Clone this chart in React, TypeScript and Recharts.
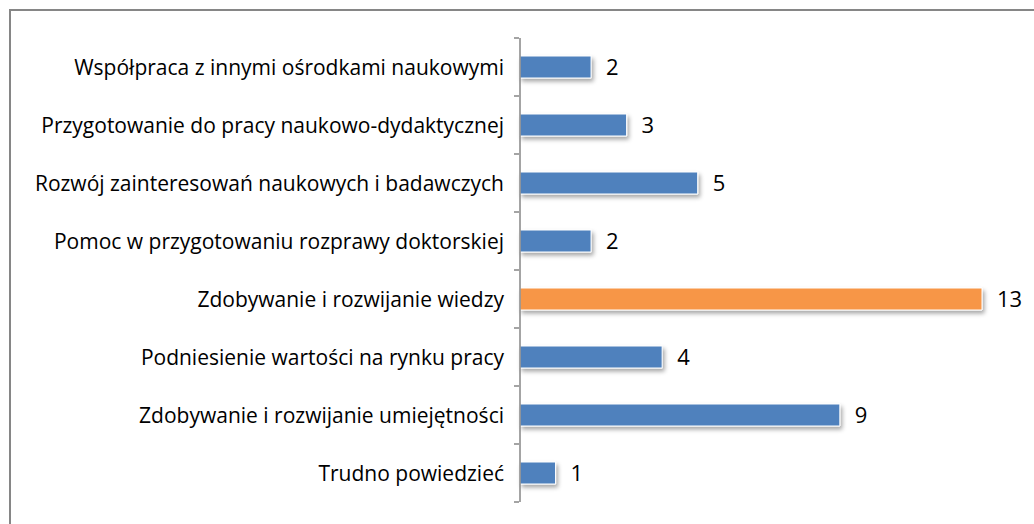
import { BarChart, Bar, XAxis, YAxis, Cell, LabelList } from 'recharts'

const categories = [
  'Współpraca z innymi ośrodkami naukowymi',
  'Przygotowanie do pracy naukowo-dydaktycznej',
  'Rozwój zainteresowań naukowych i badawczych',
  'Pomoc w przygotowaniu rozprawy doktorskiej',
  'Zdobywanie i rozwijanie wiedzy',
  'Podniesienie wartości na rynku pracy',
  'Zdobywanie i rozwijanie umiejętności',
  'Trudno powiedzieć',
]
const values = [2, 3, 5, 2, 13, 4, 9, 1]
const highlighted = 'Zdobywanie i rozwijanie wiedzy'

const data = categories.map((name, i) => ({ name, value: values[i] }))

const W = 1034
const H = 524
const TOP = 38
const BOTTOM = 22
const AXIS_W = 520
const FONT = '"Open Sans", Lato, sans-serif'
const band = (H - TOP - BOTTOM) / categories.length

function CatTick(props: any) {
  const { x, y, payload, index } = props
  const ax = AXIS_W - 1
  return (
    <g>
      <line x1={ax - 5} x2={ax} y1={y - band / 2} y2={y - band / 2} stroke="#868686" strokeWidth={1.5} />
      {index === categories.length - 1 && (
        <line x1={ax - 5} x2={ax} y1={y + band / 2} y2={y + band / 2} stroke="#868686" strokeWidth={1.5} />
      )}
      <text x={x} y={y} dy={8} textAnchor="end" fontSize={21} fill="#000" fontFamily={FONT}>
        {payload.value}
      </text>
    </g>
  )
}

export default function App() {
  return (
    <div style={{ position: 'fixed', left: 0, top: 0, width: W, height: H, background: '#fff', overflow: 'hidden' }}>
      <div style={{ position: 'absolute', left: 9, top: 9, width: 1100, height: 600, border: '2px solid #868686' }} />
      <BarChart
        width={W}
        height={H}
        data={data}
        layout="vertical"
        margin={{ top: TOP, right: 52, bottom: BOTTOM, left: 0 }}
        barCategoryGap={0}
      >
        <defs>
          <filter id="shadow" x="-10%" y="-50%" width="130%" height="250%">
            <feDropShadow dx={2} dy={3} stdDeviation={2} floodColor="#000" floodOpacity={0.35} />
          </filter>
        </defs>
        <XAxis type="number" domain={[0, 13]} hide />
        <YAxis
          type="category"
          dataKey="name"
          width={AXIS_W}
          tickSize={0}
          tickMargin={16}
          tickLine={false}
          axisLine={{ stroke: '#868686', strokeWidth: 1.5 }}
          tick={<CatTick />}
          interval={0}
        />
        <Bar dataKey="value" barSize={22} isAnimationActive={false} filter="url(#shadow)" stroke="#fff" strokeWidth={1}>
          {data.map((d) => (
            <Cell key={d.name} fill={d.name === highlighted ? '#F79646' : '#4F81BD'} />
          ))}
          <LabelList dataKey="value" position="right" offset={15} fill="#000" fontSize={22} fontFamily={FONT} />
        </Bar>
      </BarChart>
    </div>
  )
}
